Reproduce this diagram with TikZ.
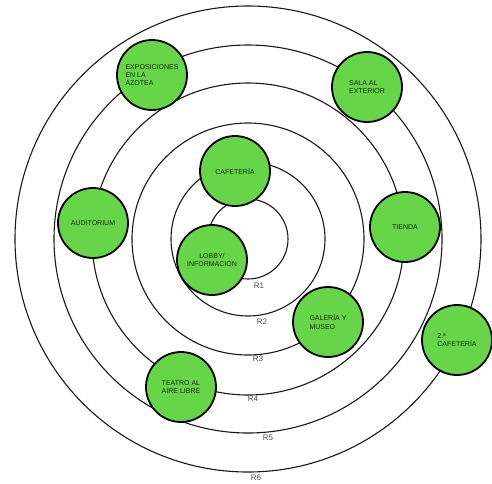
\documentclass[tikz,border=0pt]{standalone}
\usepackage{fontspec}
\setmainfont{Liberation Sans}
\usepackage{tikz}
\usetikzlibrary{positioning}
\usepackage{xcolor}
\definecolor{roomgreen}{RGB}{102,214,72}
\definecolor{roomtext}{RGB}{20,45,16}

\begin{document}
\begin{tikzpicture}[x=1pt, y=-1pt,
  room/.style={circle, draw=black, line width=1.8pt, fill=roomgreen,
               minimum size=70pt, inner sep=1pt, text=roomtext,
               font=\fontsize{7}{8.3}\selectfont, align=left},
  ring/.style={draw=black!90, line width=1.1pt},
  rlabel/.style={font=\fontsize{8}{9}\selectfont, text=black!70,
                 inner sep=0pt}
]
\useasboundingbox (0,0) rectangle (492,483);
% rings
\coordinate (O) at (248,239);
\foreach \n/\rad in {1/40,2/77,3/116,4/156,5/194,6/233}
  \draw[ring] (O) circle (\rad);
% ring labels
\node[rlabel] (r1) at (259,286) {R1};
\node[rlabel] (r2) at (262,322) {R2};
\node[rlabel] (r3) at (258,359) {R3};
\node[rlabel] (r4) at (253,399) {R4};
\node[rlabel] (r5) at (268,438) {R5};
\node[rlabel] (r6) at (256,478) {R6};
% rooms
\node[room, align=center] (lobby) at (212,260) {LOBBY/\\INFORMACIÓN};
\node[room] (cafe)    at (235,171) {CAFETERÍA};
\node[room] (galeria) at (328,322) {GALERÍA Y\\MUSEO};
\node[room] (audit)   at (93,223)  {AUDITORIUM};
\node[room] (tienda)  at (405,227) {TIENDA};
\node[room] (teatro)  at (181,387) {TEATRO AL\\AIRE LIBRE};
\node[room] (expo)    at (152,75)  {EXPOSICIONES\\EN LA\\AZOTEA};
\node[room] (sala)    at (367,87)  {SALA AL\\EXTERIOR};
\node[room] (cafe2)   at (457,340) {2.ª\\CAFETERÍA};
\end{tikzpicture}
\end{document}
